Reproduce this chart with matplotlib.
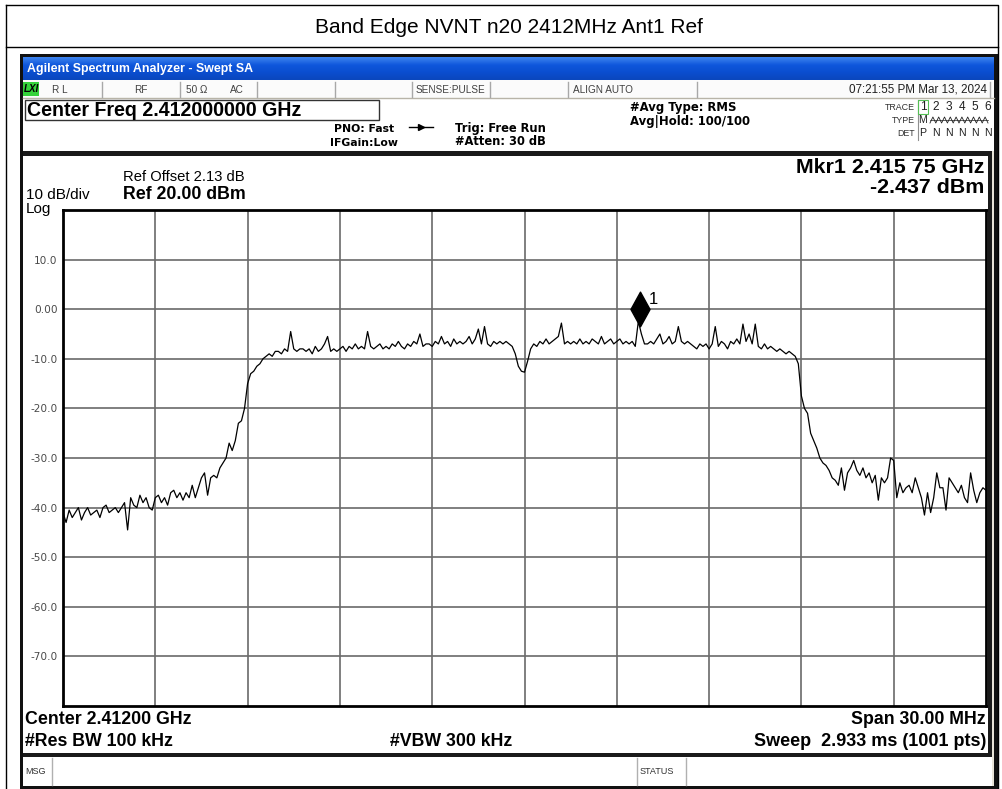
import numpy as np
import matplotlib
matplotlib.use("Agg")
import matplotlib.pyplot as plt
from matplotlib.patches import Rectangle
from matplotlib.path import Path
from matplotlib.colors import LinearSegmentedColormap

# ---------------- data ----------------
title = "Band Edge NVNT n20 2412MHz Ant1 Ref"
start_mhz = 2397.0
stop_mhz = 2427.0
ref_level_dbm = 20.0
bottom_level_dbm = -80.0
marker_mhz = 2415.75
marker_dbm = -2.437
ytick_vals = [10, 0, -10, -20, -30, -40, -50, -60, -70]
ytick_labels = ["10.0", "0.00", "-10.0", "-20.0", "-30.0", "-40.0", "-50.0", "-60.0", "-70.0"]
xgrid_mhz = [2400, 2403, 2406, 2409, 2412, 2415, 2418, 2421, 2424]

trace_dbm = [
    -41, -43, -40.5, -42, -41, -40, -42.5, -41, -40, -41.5,
    -41, -40.5, -42, -40, -39.5, -41, -40.5, -40, -41, -40,
    -39, -44.5, -38, -39.5, -40, -37.5, -39, -38, -40, -40.5,
    -38, -37.5, -39, -38, -39.5, -37, -36.5, -38, -37, -38.5,
    -37, -38, -35.5, -38, -36, -34, -33, -37.5, -34, -33.5,
    -34, -32, -31, -30, -27, -28.5, -26.5, -23, -22.5, -20,
    -15, -13, -12.5, -11.5, -11, -10, -9.5, -9, -9.5, -8.5,
    -8.5, -9, -8, -8.5, -4.5, -8, -8.5, -8, -8, -8.5,
    -8, -9, -7.5, -8.5, -8, -7, -5.5, -8.5, -8, -8.5,
    -8, -7.5, -8.5, -7.5, -8, -7, -8, -7.5, -8, -4.5,
    -7.5, -8, -7.5, -7, -8, -7.5, -8, -7, -7.5, -6.5,
    -7.5, -8, -7, -7.5, -6.5, -7, -5, -7.5, -7, -7,
    -7.5, -6.5, -7, -5.5, -7, -6.5, -7.5, -6, -7, -6.5,
    -7, -6.5, -5.5, -7, -6, -4, -7, -3.5, -7, -7.5,
    -6.5, -7, -6.5, -7, -6.5, -7, -7.5, -9, -11.5, -12.5,
    -12.7, -10.5, -8, -7, -7.5, -6.5, -7, -6, -7, -6.5,
    -6, -5.5, -2.8, -7, -6.5, -7, -6.5, -7, -6, -7,
    -6.5, -7, -6, -6.5, -7, -5.5, -7, -6.5, -6, -7,
    -6.5, -6, -7, -6.5, -7, -6.5, -7.5, -2.437, -5, -7,
    -7, -6.5, -7, -6, -5, -7, -6.5, -5.5, -7, -6.5,
    -3.5, -6.5, -7, -6.5, -7, -7.5, -8, -7, -7.5, -7,
    -8, -7, -3.5, -7.5, -6.5, -7, -8, -6.5, -7, -6,
    -7, -3, -6.5, -5, -7, -3, -7.5, -8, -7, -8,
    -7.5, -8, -8.5, -8, -8.5, -9, -8.5, -9, -9.5, -11,
    -17.5, -20, -21, -25, -26.5, -28, -30, -31, -31.5, -32.5,
    -34, -34.5, -35.5, -32, -36.5, -33, -32, -30.5, -32.5, -33.5,
    -32, -34, -33, -35, -33.5, -38.5, -34, -35, -34, -30,
    -30.5, -38, -35, -37, -36, -35.5, -37, -34, -36, -38,
    -41.5, -37, -41, -38, -33, -36, -36, -40.5, -34, -35,
    -36, -37, -35.5, -38, -39, -33, -36.5, -39, -37, -36,
    -36.5,
]

FONT = "Liberation Sans"
UI = "DejaVu Sans"
W, H = 1003, 789

fig = plt.figure(figsize=(W / 100, H / 100), dpi=100)
fig.patch.set_facecolor("white")

bg = fig.add_axes([0, 0, 1, 1])
bg.set_xlim(0, W)
bg.set_ylim(H, 0)
bg.axis("off")


def px_rect(x0, y0, x1, y1, **kw):
    bg.add_patch(Rectangle((x0, y0), x1 - x0, y1 - y0, **kw))


def txt(x, y, s, size, ha="left", weight="normal", color="black", family=FONT,
        va="center", **kw):
    bg.text(x, y, s, fontsize=size, ha=ha, va=va, weight=weight,
            color=color, family=family, **kw)


# outer report frame + title
bg.plot([6, 998, 998], [5, 5, 789], color="black", lw=1)
bg.plot([6, 6], [5, 789], color="black", lw=1)
bg.plot([6, 998], [47, 47], color="black", lw=1)
txt(509, 27, title, 15.0, ha="center")

# screenshot background / frame
px_rect(20, 54, 998, 789, facecolor="#111111", edgecolor="none")
px_rect(23, 57, 994, 786, facecolor="white", edgecolor="none")

# blue title bar with gradient
grad = np.linspace(0, 1, 24).reshape(-1, 1)
cm = LinearSegmentedColormap.from_list("xp", ["#3d83ee", "#0f57dc", "#0a4ed0", "#0b47bd"])
bg.imshow(grad, cmap=cm, extent=(23, 994, 80, 57), aspect="auto", zorder=1)
txt(27, 69, "Agilent Spectrum Analyzer - Swept SA", 8.9, color="white",
    weight="bold", zorder=3)

# status row
px_rect(23, 80, 994, 98, facecolor="#fbfbfb", edgecolor="none", zorder=2)
bg.plot([23, 994], [98, 98], color="#b8b4a8", lw=1, zorder=3)
for xs in [102, 180, 257, 335, 412, 490, 568, 697]:
    bg.plot([xs, xs], [82, 97], color="#a8a8a8", lw=1, zorder=3)
bg.plot([990, 990], [82, 97], color="#a8a8a8", lw=1, zorder=3)
px_rect(23, 82, 39, 96, facecolor="#35d23a", edgecolor="none", zorder=3)
txt(24, 89, "LXI", 7, weight="bold", style="italic", zorder=4)
sfs = 7.2
sc = "#404040"
txt(52, 89.5, "R L", sfs, color=sc, zorder=4)
txt(134, 89.5, "RF", sfs, color=sc, zorder=4)
txt(186, 89.5, "50 Ω", sfs, color=sc, zorder=4, family=[FONT, "DejaVu Sans"])
txt(230, 89.5, "AC", sfs, color=sc, zorder=4)
txt(416, 89.5, "SENSE:PULSE", sfs, color=sc, zorder=4)
txt(573, 89.5, "ALIGN AUTO", sfs, color=sc, zorder=4)
txt(987, 89.5, "07:21:55 PM Mar 13, 2024", 8.4, ha="right", color="#202020", zorder=4)

# header info area
px_rect(25, 100, 379, 120, facecolor="white", edgecolor="#333333", lw=1, zorder=3)
txt(27, 110.5, "Center Freq 2.412000000 GHz", 14.1, weight="bold", zorder=4)
txt(364, 129, "PNO: Fast", 7.8, ha="center", weight="bold", family=UI, zorder=4)
txt(364, 143, "IFGain:Low", 7.8, ha="center", weight="bold", family=UI, zorder=4)
bg.plot([409, 433], [127, 127], color="black", lw=1, zorder=4)
bg.plot([421], [127], marker=">", color="black", ms=4, zorder=4)
txt(455, 128, "Trig: Free Run", 8.3, weight="bold", family=UI, zorder=4)
txt(455, 141, "#Atten: 30 dB", 8.3, weight="bold", family=UI, zorder=4)
txt(630, 107, "#Avg Type: RMS", 8.4, weight="bold", family=UI, zorder=4)
txt(630, 121, "Avg|Hold: 100/100", 8.4, weight="bold", family=UI, zorder=4)
tfs = 6.4
txt(915, 107, "TRACE", tfs, ha="right", color="#303030", zorder=4)
txt(915, 120, "TYPE", tfs, ha="right", color="#303030", zorder=4)
txt(915, 133, "DET", tfs, ha="right", color="#303030", zorder=4)
bg.plot([918, 918], [100, 140], color="#909090", lw=0.8, zorder=4)
px_rect(918, 100, 928, 114, facecolor="none", edgecolor="#55c055", lw=0.8, zorder=4)
for i, (d, p) in enumerate(zip("123456", "PNNNNN")):
    txt(923 + i * 13, 107, d, 8.6, ha="center", color="#202020", zorder=4)
    txt(923 + i * 13, 133, p, 7.6, ha="center", color="#202020", zorder=4)
txt(923, 120, "M", 7.6, ha="center", color="#202020", zorder=4)
zx = np.linspace(930, 988, 21)
zy = np.where(np.arange(21) % 2 == 0, 123, 117)
bg.plot(zx, zy, color="#202020", lw=0.6, zorder=4)
bg.plot([930, 988], [120, 120], color="#202020", lw=0.5, zorder=4)

# separators / panel borders
px_rect(23, 151, 994, 156, facecolor="#1a1a1a", edgecolor="none", zorder=3)
px_rect(988, 151, 992, 756, facecolor="#1a1a1a", edgecolor="none", zorder=3)
px_rect(992, 151, 994, 786, facecolor="#e8e4d8", edgecolor="none", zorder=3)
px_rect(23, 753, 992, 757, facecolor="#1a1a1a", edgecolor="none", zorder=3)

# plot panel texts
txt(123, 176.5, "Ref Offset 2.13 dB", 10.6, zorder=4)
txt(123, 194, "Ref 20.00 dBm", 12.8, weight="bold", zorder=4)
txt(26, 194.5, "10 dB/div", 11.0, zorder=4)
txt(26, 208.5, "Log", 11.0, zorder=4)
txt(984, 173, "Mkr1 2.415 75 GHz", 15.4, ha="right", weight="bold", va="baseline", zorder=4)
txt(984, 192.5, "-2.437 dBm", 15.4, ha="right", weight="bold", va="baseline", zorder=4)

txt(25, 720, "Center 2.41200 GHz", 12.8, weight="bold", zorder=4)
txt(25, 742, "#Res BW 100 kHz", 12.8, weight="bold", zorder=4)
txt(390, 742, "#VBW 300 kHz", 12.8, weight="bold", zorder=4)
txt(986, 719, "Span 30.00 MHz", 12.8, ha="right", weight="bold", zorder=4)
txt(986, 741, "Sweep  2.933 ms (1001 pts)", 13.0, ha="right", weight="bold", zorder=4)

# MSG row
px_rect(23, 757, 992, 786, facecolor="white", edgecolor="none", zorder=2)
for xs in [52, 637, 686]:
    bg.plot([xs, xs], [758, 785], color="#b0b0b0", lw=1, zorder=3)
txt(25, 771, "MSG", 6.5, color="#303030", zorder=4)
txt(640, 771, "STATUS", 6.5, color="#303030", zorder=4)

# ---------------- data axes ----------------
L, R, T, B = 63, 986, 210, 706
ax = fig.add_axes([L / W, 1 - B / H, (R - L) / W, (B - T) / H])
ax.set_facecolor("white")
ax.set_xlim(start_mhz, stop_mhz)
ax.set_ylim(bottom_level_dbm, ref_level_dbm)
for xv in xgrid_mhz:
    ax.axvline(xv, color="#6a6a6a", lw=1.2, zorder=1)
for yv in ytick_vals:
    ax.axhline(yv, color="#6a6a6a", lw=1.2, zorder=1)
ax.set_xticks([])
ax.set_yticks(ytick_vals)
ax.set_yticklabels(ytick_labels, fontsize=7.6, color="#4a4a4a", family=UI)
ax.tick_params(axis="y", length=0, pad=4)
for s in ax.spines.values():
    s.set_color("black")
    s.set_linewidth(2)

freqs = np.linspace(start_mhz, stop_mhz, len(trace_dbm))
ax.plot(freqs, trace_dbm, color="black", lw=0.9, zorder=3)

# marker diamond sitting on the marker peak
diamond = Path([(0, -1), (0.55, 0), (0, 1), (-0.55, 0), (0, -1)],
               [Path.MOVETO, Path.LINETO, Path.LINETO, Path.LINETO, Path.CLOSEPOLY])
db_per_px = (ref_level_dbm - bottom_level_dbm) / (B - T)
ax.plot([marker_mhz], [marker_dbm + 12.5 * db_per_px], marker=diamond, ms=25,
        color="black", mec="black", zorder=4, clip_on=False)
ax.text(marker_mhz + 0.28, marker_dbm + 22 * db_per_px, "1", fontsize=12,
        family=FONT, ha="left", va="center", zorder=5)

fig.savefig("out.png", dpi=100)
